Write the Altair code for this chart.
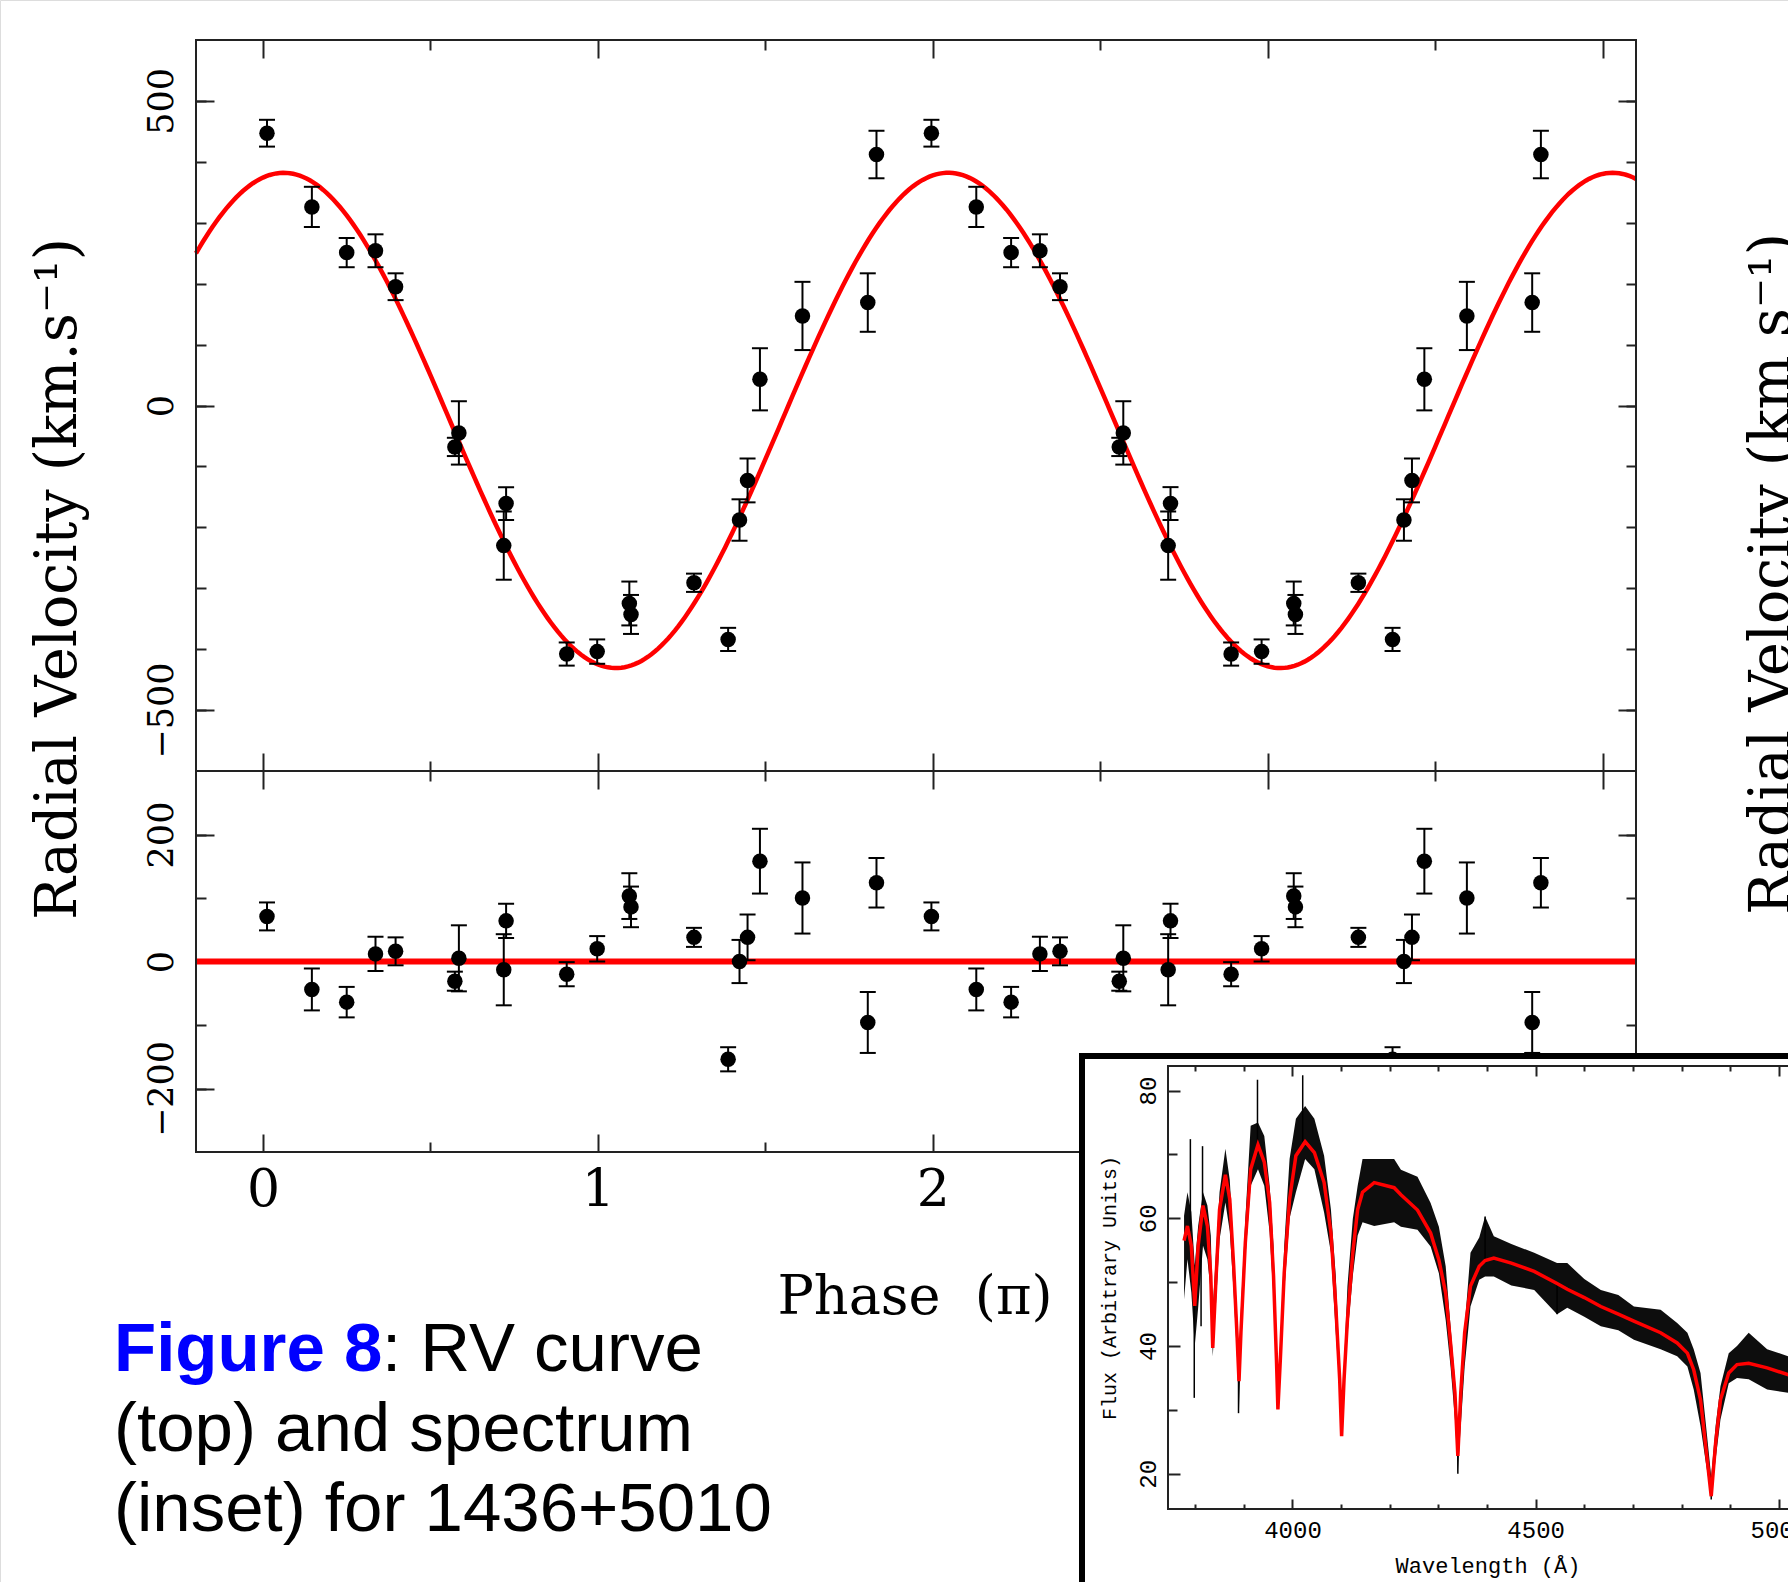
import altair as alt
import numpy as np
import pandas as pd

# ---------------- radial-velocity data (phase in units of pi) ----------------
phase = [0.012, 0.146, 0.250, 0.336, 0.396, 0.573, 0.585, 0.719, 0.726, 0.907,
         0.998, 1.094, 1.099, 1.287, 1.389, 1.423, 1.447, 1.484, 1.611, 1.806, 1.832]
rv = [447, 326, 251, 254, 195, -68, -45, -230, -161, -408,
      -404, -325, -343, -291, -384, -188, -123, 43, 147, 169, 412]
rv_err = [22, 33, 24, 27, 22, 15, 52, 56, 27, 19,
          20, 36, 32, 15, 19, 34, 36, 51, 56, 48, 39]
resid = [71, -44, -64, 12, 16, -31, 5, -13, 64, -20,
         20, 103, 86, 38, -154, 0, 38, 158, 100, -96, 124]

# fitted sinusoid
GAMMA = -24.5
K_AMP = 406.5
PHI0 = 0.062
PERIOD = 1.984

# ---------------- spectrum (inset) ----------------
wl = [3777, 3784, 3792, 3799, 3806, 3816, 3825, 3832, 3836, 3843,
      3850, 3862, 3871, 3879, 3886, 3890, 3894, 3903, 3914, 3929,
      3942, 3953, 3961, 3967, 3970, 3975, 3983, 3994, 4007, 4026,
      4045, 4065, 4079, 4089, 4097, 4101, 4106, 4113, 4124, 4134,
      4144, 4168, 4209, 4223, 4257, 4284, 4301, 4315, 4325, 4334,
      4340, 4346, 4354, 4366, 4384, 4396, 4414, 4450, 4497, 4544,
      4565, 4600, 4634, 4670, 4702, 4757, 4791, 4812, 4825, 4839,
      4849, 4861, 4870, 4880, 4897, 4914, 4938, 4976, 5020, 5060]
model = [56.5, 58.8, 55.7, 46.3, 55.7, 62.0, 58.8, 51.0, 39.7, 51.0,
         61.4, 66.8, 63.0, 52.6, 41.6, 34.5, 42.2, 56.2, 67.7, 71.5,
         68.8, 62.5, 51.0, 37.9, 30.1, 37.9, 51.5, 63.0, 69.8, 72.0,
         70.3, 65.6, 57.8, 46.3, 34.8, 25.9, 34.8, 44.2, 54.6, 61.4,
         64.1, 65.6, 64.8, 63.7, 61.3, 57.7, 53.5, 48.3, 40.5, 32.7,
         22.8, 32.7, 42.1, 49.4, 52.5, 53.4, 53.8, 53.0, 51.7, 49.8,
         48.9, 47.6, 46.2, 45.0, 43.9, 42.1, 40.5, 38.9, 36.3, 31.6,
         24.8, 16.5, 24.8, 31.6, 35.8, 37.1, 37.3, 36.6, 35.5, 34.5]
flux_lo = [47.3, 53.6, 48.4, 40.0, 46.0, 55.7, 53.6, 48.4, 38.4, 47.0,
           56.7, 62.5, 58.0, 48.4, 38.0, 30.1, 39.0, 53.6, 65.1, 67.7,
           65.1, 57.8, 47.3, 36.0, 30.1, 36.0, 48.4, 60.0, 64.1, 69.3,
           67.7, 60.9, 54.6, 42.1, 33.0, 25.9, 33.0, 41.6, 51.0, 57.3,
           59.4, 58.8, 59.4, 58.7, 58.2, 55.6, 51.4, 44.1, 36.8, 28.5,
           20.2, 27.5, 36.8, 46.2, 50.4, 50.9, 50.9, 49.5, 48.8, 45.0,
           46.0, 44.6, 43.1, 42.5, 41.0, 39.5, 38.4, 36.8, 33.2, 27.5,
           22.2, 16.3, 22.2, 28.5, 34.2, 35.0, 34.8, 33.2, 32.7, 31.8]
flux_hi = [60.4, 64.1, 61.0, 52.6, 58.8, 64.1, 62.0, 57.3, 45.8, 55.0,
           64.1, 70.9, 66.0, 55.2, 45.0, 37.9, 46.0, 59.9, 74.5, 75.0,
           72.9, 65.1, 55.7, 41.0, 34.0, 41.0, 55.7, 69.3, 75.6, 77.6,
           75.6, 69.8, 61.4, 51.0, 37.0, 28.0, 37.0, 49.4, 59.9, 65.1,
           69.3, 69.3, 69.3, 67.6, 66.5, 62.4, 58.7, 52.5, 43.1, 34.8,
           27.5, 33.7, 43.1, 54.6, 57.0, 60.3, 57.2, 56.0, 54.6, 53.0,
           53.0, 50.5, 48.8, 48.0, 46.2, 45.7, 43.6, 42.1, 39.5, 35.8,
           28.5, 19.6, 27.5, 33.7, 38.9, 40.0, 42.1, 39.5, 38.4, 37.5]
spike_wl = [3790, 3798, 3812, 3815, 3889, 3928, 4021, 4340, 4396, 4544, 4861]
spike_lo = [58.0, 31.9, 43.1, 62.0, 29.5, 70.0, 72.0, 20.0, 53.0, 45.0, 16.0]
spike_hi = [72.4, 48.0, 55.0, 71.3, 38.0, 81.7, 82.4, 27.0, 60.3, 50.0, 19.6]

# tick values
X_MAJOR = [0, 1, 2, 3, 4]
X_MINOR = [0.5, 1.5, 2.5, 3.5]
YT_MAJOR = [-500, 0, 500]
YT_MINOR = [-500, -400, -300, -200, -100, 0, 100, 200, 300, 400, 500]
YB_MAJOR = [-200, 0, 200]
YB_MINOR = [-200, -100, 0, 100, 200]
WX_MAJOR = [4000, 4500, 5000]
WX_MINOR = [3800, 3900, 4100, 4200, 4300, 4400, 4600, 4700, 4800, 4900]
FY_MAJOR = [20, 40, 60, 80]
FY_MINOR = [30, 50, 70]

# ---------------- layout ----------------
W, H = 1788, 1582
XL, XR = 196, 1636
YT, YM, YB = 40, 771, 1152
IL, IR, IT, IB = 1168, 1808, 1066, 1509

SERIF = "DejaVu Serif"
MONO = "Liberation Mono"
SANS = "Liberation Sans"
INK = "#222222"
RED = "#ff0000"


def sc(domain, rng):
    return alt.Scale(domain=domain, range=rng, nice=False, zero=False)


X_MAIN = sc([-0.2, 4.1], [XL, XR])
Y_TOP = sc([-600, 600], [YM, YT])
Y_BOT = sc([-300, 300], [YB, YM])
X_INS = sc([3744, 5060], [IL, IR])
Y_INS = sc([14.5, 83.85], [IB, IT])


def axis(orient, values, size, edge, labels=False, **kw):
    # inward ticks: the axis baseline sits inside the frame by the tick length
    if orient in ("left", "top"):
        off = -(edge + size)
    elif orient == "right":
        off = edge - size - W
    else:
        off = edge - size - H
    base = dict(orient=orient, values=values, tickSize=size, offset=off,
                domain=False, grid=False, labels=labels, title=None,
                tickColor=INK, tickWidth=2, ticks=True,
                labelOverlap=False, labelFlush=False, labelColor="black")
    base.update(kw)
    return alt.Axis(**base)


YLAB = dict(labelFont=SERIF, labelFontSize=35, labelAngle=270, labelAlign="center",
            labelBaseline="alphabetic", labelPadding=24, format="d")
XLAB = dict(labelFont=SERIF, labelFontSize=52, labelAngle=0, labelAlign="center",
            labelBaseline="alphabetic", labelPadding=53, format="d")
IYLAB = dict(labelFont=MONO, labelFontSize=24, labelAngle=270, labelAlign="center",
             labelBaseline="alphabetic", labelPadding=13, format="d", zindex=2)
IXLAB = dict(labelFont=MONO, labelFontSize=24, labelAngle=0, labelAlign="center",
             labelBaseline="alphabetic", labelPadding=28, format="d", zindex=2)
ITOP = dict(zindex=2)

# ---------------- tables ----------------
ph2 = [p + PERIOD for p in phase]
df_rv = pd.DataFrame({"phase": phase + ph2, "rv": rv * 2, "err": rv_err * 2, "res": resid * 2})
df_rv["lo"] = df_rv["rv"] - df_rv["err"]
df_rv["hi"] = df_rv["rv"] + df_rv["err"]
df_rv["rlo"] = df_rv["res"] - df_rv["err"]
df_rv["rhi"] = df_rv["res"] + df_rv["err"]
df_caps = pd.DataFrame({
    "phase": list(df_rv["phase"]) * 2,
    "cap": list(df_rv["lo"]) + list(df_rv["hi"]),
    "rcap": list(df_rv["rlo"]) + list(df_rv["rhi"]),
})
grid = np.linspace(-0.2, 4.1, 431)
df_curve = pd.DataFrame({"phase": grid,
                         "v": GAMMA + K_AMP * np.cos(2 * np.pi * (grid - PHI0) / PERIOD)})
df_spec = pd.DataFrame({"wl": wl, "model": model, "lo": flux_lo, "hi": flux_hi})
df_spk = pd.DataFrame({"wl": spike_wl, "lo": spike_lo, "hi": spike_hi})
ONE = pd.DataFrame({"k": [0]})

layers = []

# ---------------- top panel ----------------
layers.append(alt.Chart(df_curve).mark_line(color=RED, strokeWidth=4.5).encode(
    x=alt.X("phase:Q", scale=X_MAIN, axis=axis("bottom", X_MAJOR, 18, YM)),
    y=alt.Y("v:Q", scale=Y_TOP, axis=axis("left", YT_MAJOR, 18, XL, labels=True, **YLAB))))
layers.append(alt.Chart(df_rv).mark_rule(color="black", strokeWidth=2).encode(
    x=alt.X("phase:Q", scale=X_MAIN, axis=axis("bottom", X_MINOR, 10, YM)),
    y=alt.Y("lo:Q", scale=Y_TOP, axis=axis("left", YT_MINOR, 10, XL)),
    y2="hi:Q"))
layers.append(alt.Chart(df_caps).mark_tick(color="black", thickness=2, size=16,
                                           orient="horizontal", opacity=1).encode(
    x=alt.X("phase:Q", scale=X_MAIN, axis=axis("top", X_MAJOR, 18, YT)),
    y=alt.Y("cap:Q", scale=Y_TOP, axis=axis("right", YT_MAJOR, 18, XR))))
layers.append(alt.Chart(df_rv).mark_circle(color="black", size=240, opacity=1).encode(
    x=alt.X("phase:Q", scale=X_MAIN, axis=axis("top", X_MINOR, 10, YT)),
    y=alt.Y("rv:Q", scale=Y_TOP, axis=axis("right", YT_MINOR, 10, XR))))
layers.append(alt.Chart(ONE).mark_rect(fillOpacity=0, stroke=INK, strokeWidth=2).encode(
    x=alt.XDatum(-0.2, type="quantitative", scale=X_MAIN, axis=None), x2=alt.X2Datum(4.1),
    y=alt.YDatum(-600, type="quantitative", scale=Y_TOP, axis=None), y2=alt.Y2Datum(600)))

# ---------------- residual panel ----------------
layers.append(alt.Chart(ONE).mark_rule(color=RED, strokeWidth=6).encode(
    x=alt.XDatum(-0.2, type="quantitative", scale=X_MAIN,
                 axis=axis("bottom", X_MAJOR, 18, YB, labels=True, **XLAB)),
    x2=alt.X2Datum(4.1),
    y=alt.YDatum(0, type="quantitative", scale=Y_BOT,
                 axis=axis("left", YB_MAJOR, 18, XL, labels=True, **YLAB))))
layers.append(alt.Chart(df_rv).mark_rule(color="black", strokeWidth=2).encode(
    x=alt.X("phase:Q", scale=X_MAIN, axis=axis("bottom", X_MINOR, 10, YB)),
    y=alt.Y("rlo:Q", scale=Y_BOT, axis=axis("left", YB_MINOR, 10, XL)),
    y2="rhi:Q"))
layers.append(alt.Chart(df_caps).mark_tick(color="black", thickness=2, size=16,
                                           orient="horizontal", opacity=1).encode(
    x=alt.X("phase:Q", scale=X_MAIN, axis=axis("top", X_MAJOR, 18, YM)),
    y=alt.Y("rcap:Q", scale=Y_BOT, axis=axis("right", YB_MAJOR, 18, XR))))
layers.append(alt.Chart(df_rv).mark_circle(color="black", size=240, opacity=1).encode(
    x=alt.X("phase:Q", scale=X_MAIN, axis=axis("top", X_MINOR, 10, YM)),
    y=alt.Y("res:Q", scale=Y_BOT, axis=axis("right", YB_MINOR, 10, XR))))
layers.append(alt.Chart(ONE).mark_rect(fillOpacity=0, stroke=INK, strokeWidth=2).encode(
    x=alt.XDatum(-0.2, type="quantitative", scale=X_MAIN, axis=None), x2=alt.X2Datum(4.1),
    y=alt.YDatum(-300, type="quantitative", scale=Y_BOT, axis=None), y2=alt.Y2Datum(300)))


def text(txt, x, y, size, font, angle=0, align="center", color="black", weight="normal"):
    return alt.Chart(pd.DataFrame({"t": [txt]})).mark_text(
        font=font, fontSize=size, angle=angle, align=align, baseline="alphabetic",
        color=color, fontWeight=weight).encode(x=alt.value(x), y=alt.value(y), text="t:N")


layers.append(text("Radial Velocity (km.s\u207b\u00b9)", 76, 579, 57, SERIF, angle=270))
layers.append(text("Phase\u00a0\u00a0(\u03c0)", 915, 1314, 54, SERIF))
layers.append(text("Radial Velocity (km s\u207b\u00b9)", 1790, 574, 57, SERIF, angle=270))

# ---------------- inset ----------------
layers.append(alt.Chart(ONE).mark_rect(fill="white", stroke="black", strokeWidth=6).encode(
    x=alt.value(1082), x2=alt.value(1900), y=alt.value(1056), y2=alt.value(1700)))
layers.append(alt.Chart(df_spec).mark_area(color="black", opacity=0.95).encode(
    x=alt.X("wl:Q", scale=X_INS, axis=axis("bottom", WX_MAJOR, 10, IB, labels=True, **IXLAB)),
    y=alt.Y("lo:Q", scale=Y_INS, axis=axis("left", FY_MAJOR, 12, IL, labels=True, **IYLAB)),
    y2="hi:Q"))
layers.append(alt.Chart(df_spk).mark_rule(color="black", strokeWidth=1.5).encode(
    x=alt.X("wl:Q", scale=X_INS, axis=axis("bottom", WX_MINOR, 5, IB, **ITOP)),
    y=alt.Y("lo:Q", scale=Y_INS, axis=axis("left", FY_MINOR, 9, IL, **ITOP)),
    y2="hi:Q"))
layers.append(alt.Chart(df_spec).mark_line(color=RED, strokeWidth=3.5).encode(
    x=alt.X("wl:Q", scale=X_INS, axis=axis("top", WX_MAJOR, 10, IT, **ITOP)),
    y=alt.Y("model:Q", scale=Y_INS, axis=None)))
layers.append(alt.Chart(ONE).mark_rect(fillOpacity=0, stroke=INK, strokeWidth=2).encode(
    x=alt.XDatum(3744, type="quantitative", scale=X_INS,
                 axis=axis("top", WX_MINOR, 5, IT, **ITOP)),
    x2=alt.X2Datum(5060),
    y=alt.YDatum(14.5, type="quantitative", scale=Y_INS, axis=None), y2=alt.Y2Datum(83.85)))
layers.append(text("Flux (Arbitrary Units)", 1116, 1288, 20, MONO, angle=270))
layers.append(text("Wavelength (\u00c5)", 1488, 1573, 22, MONO))

# ---------------- caption ----------------
layers.append(text("Figure 8", 114, 1371, 69, SANS, align="left", color="#0000ff", weight="bold"))
layers.append(text(": RV curve", 382, 1371, 69, SANS, align="left"))
layers.append(text("(top) and spectrum", 114, 1451, 69, SANS, align="left"))
layers.append(text("(inset) for 1436+5010", 114, 1531, 69, SANS, align="left"))

chart = alt.layer(*layers).resolve_scale(
    x="independent", y="independent"
).resolve_axis(
    x="independent", y="independent"
).properties(
    width=W, height=H, padding=0, autosize=alt.AutoSizeParams(type="none")
).configure_view(strokeWidth=0).configure(background="white")

chart.save("out.html", embed_options={"renderer": "svg", "actions": False})
